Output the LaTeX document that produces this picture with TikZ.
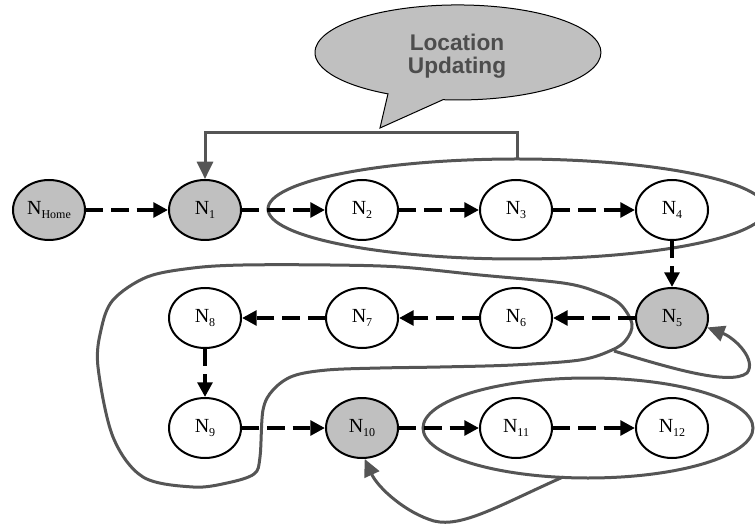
\documentclass[tikz,border=0pt]{standalone}
\usepackage{fontspec}
\setmainfont{Liberation Serif}
\newfontfamily\calloutfont{Liberation Sans}
\usetikzlibrary{shapes.geometric,arrows.meta}

\definecolor{nodegray}{RGB}{192,192,192}
\definecolor{linegray}{RGB}{85,85,85}
\definecolor{textgray}{RGB}{77,77,77}

\newcommand{\nsub}[1]{N\raisebox{-3.5pt}{\fontsize{9}{9}\selectfont #1}}

\begin{document}
\begin{tikzpicture}[x=0.75pt,y=0.75pt,yscale=-1,xscale=1,
    station/.style={draw, ellipse, line width=1.5pt, fill=white, minimum width=54pt, minimum height=45pt, inner sep=0pt, font=\fontsize{15}{15}\selectfont},
    visited/.style={station, fill=nodegray},
    hop/.style={line width=3pt, dash pattern=on 13pt off 6pt, -{Triangle[length=11pt,width=11pt]}},
    area/.style={draw=linegray, line width=2.25pt},
    areaarrow/.style={area, -{Triangle[length=13pt,width=12pt]}}]
        \clip (0,0) rectangle (755,530);

        % Text Node
        \node[visited] (home) at (49,210) {\nsub{Home}};
        \node[visited] (n1) at (205,210) {\nsub{1}};
        \node[station] (n2) at (362,210) {\nsub{2}};
        \node[station] (n3) at (516,210) {\nsub{3}};
        \node[station] (n4) at (672,210) {\nsub{4}};
        \node[visited] (n5) at (672,318) {\nsub{5}};
        \node[station] (n6) at (516,318) {\nsub{6}};
        \node[station] (n7) at (362,318) {\nsub{7}};
        \node[station] (n8) at (205,318) {\nsub{8}};
        \node[station] (n9) at (205,428) {\nsub{9}};
        \node[visited] (n10) at (362,428) {\nsub{10}};
        \node[station] (n11) at (516,428) {\nsub{11}};
        \node[station] (n12) at (672,428) {\nsub{12}};

        %Shape: Callout
        \draw [fill=nodegray, line width=0.75pt] (380,128) -- (443,99.7) arc [start angle=96, end angle=-240.7, x radius=143, y radius=47.5] -- cycle ;
        \node[font=\calloutfont\bfseries\fontsize{17}{17.5}\selectfont, text=textgray, align=center] (callout) at (457,56) {Location\\Updating};

        %Shape: Ellipse
        \draw [area] (517,209) ellipse [x radius=249, y radius=50] ;
        \draw [area] (588,428) ellipse [x radius=165, y radius=50] ;

        %Shape: Closed Curve
        \draw [area] plot [smooth cycle, tension=0.55] coordinates {(632,324) (626,340) (612,350) (580,360) (513,365) (440,367) (380,368) (327,370) (293,376) (273,390) (263,410) (260,457) (254,474) (227,483) (193,487) (143,477) (113,437) (98,367) (101,330) (113,300) (147,277) (193,268) (243,265) (330,265) (400,267) (480,275) (563,283) (597,292) (620,304)};

        %Straight Lines
        \coordinate (brk) at (517,159);
        \draw [areaarrow] (brk) -- ++(0,-26) -| (n1);
        \coordinate (loopTail) at (614,351);
        \draw [areaarrow] (loopTail) .. controls (670,368) and (730,386) .. (747,373) .. controls (757,360) and (735,338) .. (n5.-15);
        \coordinate (ringTail) at (563,477);
        \draw [areaarrow] (ringTail) .. controls (500,505) and (462,528) .. (434,521) .. controls (406,513) and (378,488) .. (n10.-85);

        %Dashed Arrows
        \draw [hop] (home) -- (n1);
        \draw [hop] (n1) -- (n2);
        \draw [hop] (n2) -- (n3);
        \draw [hop] (n3) -- (n4);
        \draw [hop] (n4) -- (n5);
        \draw [hop] (n5) -- (n6);
        \draw [hop] (n6) -- (n7);
        \draw [hop] (n7) -- (n8);
        \draw [hop] (n8) -- (n9);
        \draw [hop] (n9) -- (n10);
        \draw [hop] (n10) -- (n11);
        \draw [hop] (n11) -- (n12);

\end{tikzpicture}
\end{document}
